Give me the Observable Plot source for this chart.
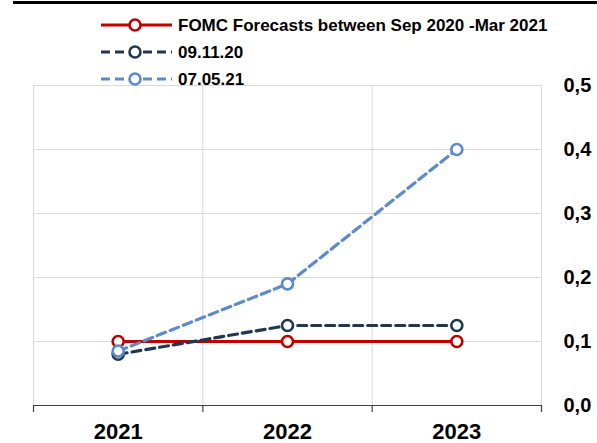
<!DOCTYPE html>
<html>
<head>
<meta charset="utf-8">
<script src="https://cdn.jsdelivr.net/npm/d3@7"></script>
<script src="https://cdn.jsdelivr.net/npm/@observablehq/plot@0.6"></script>
<style>
  html, body { margin: 0; padding: 0; background: #fff; }
  #wrap { position: relative; width: 597px; height: 443px; overflow: hidden; font-family: "Liberation Sans", Arial, sans-serif; }
  #topline { position: absolute; left: 13px; top: 1px; width: 584px; height: 3px; background: #000; }
  #legend { position: absolute; left: 0; top: 0; }
</style>
</head>
<body>
<div id="wrap">
  <div id="chart"></div>
  <div id="topline"></div>
  <svg id="legend" width="597" height="95"></svg>
</div>
<script>
const years = [2021, 2022, 2023];
const seriesNames = ["FOMC Forecasts between Sep 2020 -Mar 2021", "09.11.20", "07.05.21"];
const fomc = [0.1, 0.1, 0.1];
const s091120 = [0.08, 0.125, 0.125];
const s070521 = [0.085, 0.19, 0.40];
const yTicks = [0, 0.1, 0.2, 0.3, 0.4, 0.5];
const colors = ["#C00000", "#1F3850", "#5B8BC9"];
const dashes = [null, "9,5", "9,5"];

const seriesValues = [fomc, s091120, s070521];
const data = seriesValues.flatMap((vals, i) =>
  years.map((yr, j) => ({series: seriesNames[i], year: yr, value: vals[j]})));
const boundaries = [years[0] - 0.5, ...years.map(y => y + 0.5)];
const font = '"Liberation Sans", Arial, sans-serif';

const marks = [
  Plot.ruleY(yTicks.filter(d => d > 0), {stroke: "#d9d9d9", strokeWidth: 1}),
  Plot.ruleX(boundaries, {stroke: "#d9d9d9", strokeWidth: 1}),
  Plot.ruleY([0], {stroke: "#404040", strokeWidth: 1.2}),
  Plot.axisX({ticks: boundaries, tickFormat: () => "", tickSize: 7, stroke: "#404040", strokeWidth: 1.2, label: null}),
  Plot.axisX({ticks: years, tickSize: 0, tickPadding: 18, tickFormat: d => String(d), label: null,
    fontSize: 22, fontWeight: "bold", fill: "#000"}),
  Plot.axisY({anchor: "right", ticks: yTicks, tickSize: 0, tickPadding: 22, textAnchor: "start", label: null,
    tickFormat: d => d.toFixed(1).replace(".", ","), fontSize: 20, fontWeight: "bold", fill: "#000"})
];
seriesNames.forEach((name, i) => {
  const d = data.filter(r => r.series === name);
  marks.push(Plot.line(d, {x: "year", y: "value", stroke: colors[i], strokeWidth: 3.2,
    strokeDasharray: dashes[i] || undefined}));
  marks.push(Plot.dot(d, {x: "year", y: "value", r: 5.5, fill: "#fff", stroke: colors[i], strokeWidth: 2.6}));
});

const chart = Plot.plot({
  width: 597,
  height: 443,
  marginTop: 85,
  marginBottom: 38,
  marginLeft: 33,
  marginRight: 56,
  style: {fontFamily: font, background: "#fff", overflow: "visible"},
  x: {type: "linear", domain: [years[0] - 0.5, years[years.length - 1] + 0.5], axis: null},
  y: {domain: [0, 0.5], axis: null},
  marks
});
document.getElementById("chart").appendChild(chart);

// legend
const leg = d3.select("#legend");
seriesNames.forEach((name, i) => {
  const g = leg.append("g").attr("transform", `translate(0, ${25 + i * 27})`);
  g.append("line").attr("x1", 101).attr("x2", 172).attr("y1", 0).attr("y2", 0)
    .attr("stroke", colors[i]).attr("stroke-width", 3.2)
    .attr("stroke-dasharray", dashes[i] || null);
  g.append("circle").attr("cx", 135).attr("cy", 0).attr("r", 5.5)
    .attr("fill", "#fff").attr("stroke", colors[i]).attr("stroke-width", 2.6);
  g.append("text").attr("x", 178).attr("y", 0).attr("dy", "0.35em")
    .attr("font-family", font).attr("font-size", 17).attr("font-weight", "bold")
    .attr("fill", "#000").text(name);
});
</script>
</body>
</html>
